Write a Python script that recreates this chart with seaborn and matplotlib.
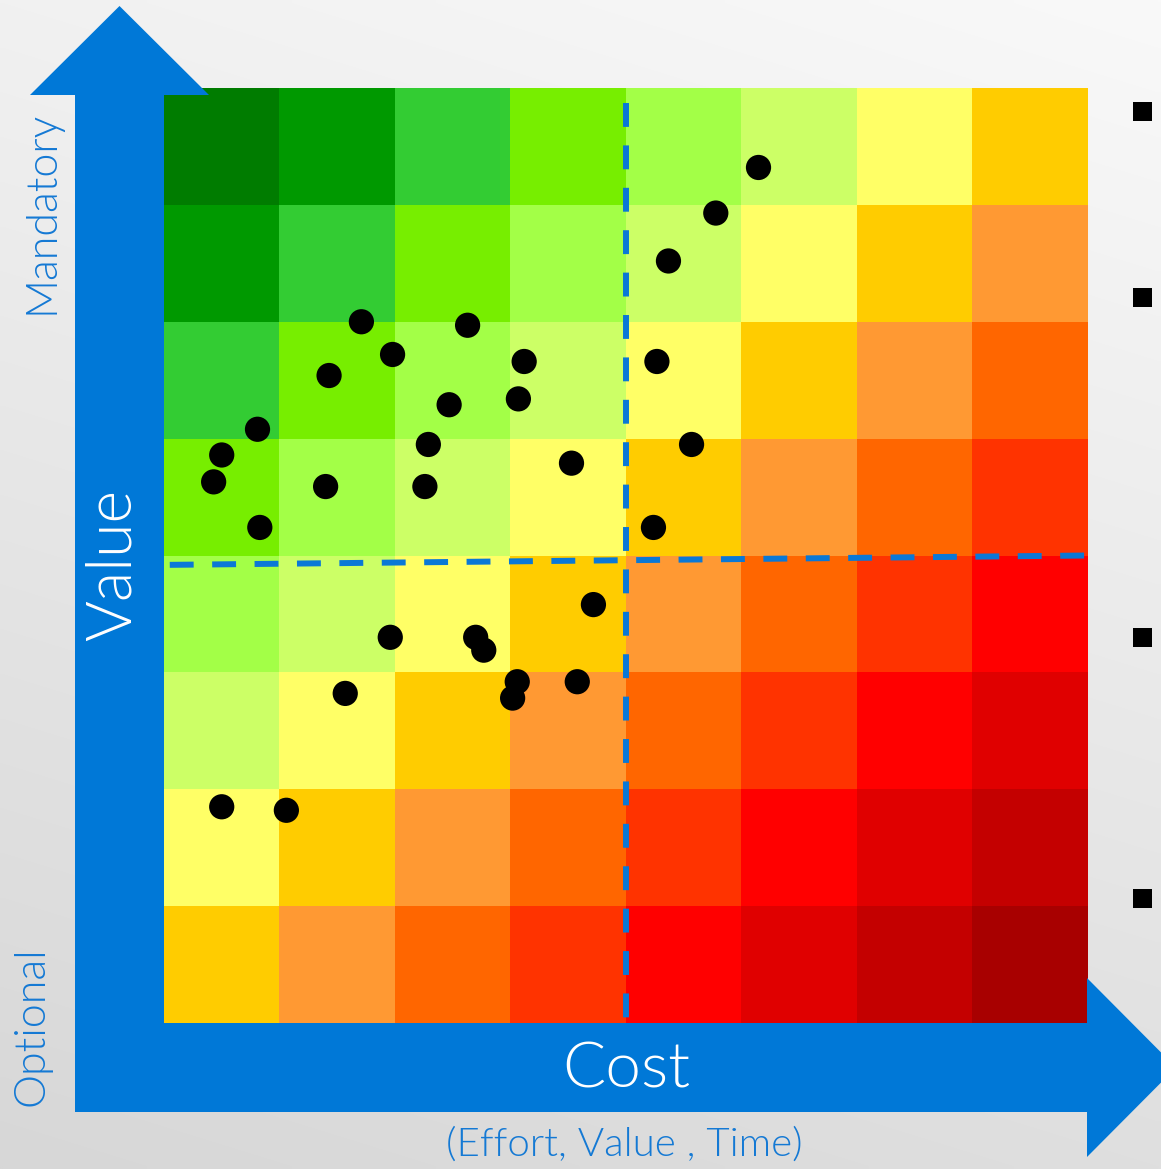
import numpy as np
import matplotlib
matplotlib.use("Agg")
import matplotlib.pyplot as plt
from matplotlib.colors import ListedColormap
from matplotlib.patches import Polygon, Rectangle
import seaborn as sns

sns.set_style("white")
plt.rcParams["font.family"] = ["Lato", "DejaVu Sans"]

# Heat levels from cool (cheap / mandatory) to hot (expensive / optional)
level_colors = [
    "#007C00", "#009900", "#33CC33", "#77EE00", "#A3FF47",
    "#CCFF66", "#FFFF66", "#FFCC00", "#FF9933", "#FF6600",
    "#FF3300", "#FF0000", "#E00000", "#C40000", "#A80000",
]
n_cells = 8

# Backlog items: cost (x) and value (y) on the 0-8 grid
item_cost = [1.71, 2.63, 1.98, 1.43, 3.12, 2.47, 3.07, 0.81, 0.50, 0.43,
             1.40, 2.29, 2.26, 0.83, 3.53, 5.15, 4.78, 4.37, 4.27, 4.57,
             4.24, 3.72, 1.96, 2.70, 2.77, 3.06, 3.02, 3.58, 1.57, 0.50,
             1.06]
item_value = [6.00, 5.97, 5.72, 5.54, 5.66, 5.29, 5.34, 5.08, 4.86, 4.63,
              4.59, 4.95, 4.59, 4.24, 4.79, 7.32, 6.93, 6.52, 5.66, 4.95,
              4.24, 3.58, 3.30, 3.30, 3.19, 2.92, 2.78, 2.92, 2.82, 1.85,
              1.82]

# Quadrant dividers
cost_split = 4.0
value_split_left, value_split_right = 3.92, 4.00

W, H = 1161, 1169
fig = plt.figure(figsize=(W / 100, H / 100), dpi=100)

# Soft grey background gradient
bg = fig.add_axes([0, 0, 1, 1], zorder=0)
xx, yy = np.meshgrid(np.linspace(0, 1, 200), np.linspace(0, 1, 200))
shade = 241 + 8 * xx - 26 * yy
bg.imshow(np.dstack([shade, shade, shade]) / 255.0, extent=[0, W, H, 0],
          aspect="auto", interpolation="bilinear")
bg.set_xlim(0, W)
bg.set_ylim(H, 0)
bg.axis("off")

# Heat grid: rows ordered bottom (value 0) to top (value 8)
levels = np.array([[c + (n_cells - 1 - r) for c in range(n_cells)]
                   for r in range(n_cells)])
left, right, top, bottom = 164, 1087.5, 88, 1023
ax = fig.add_axes([left / W, 1 - bottom / H, (right - left) / W, (bottom - top) / H],
                  zorder=1)
sns.heatmap(levels, cmap=ListedColormap(level_colors), vmin=-0.5,
            vmax=len(level_colors) - 0.5, cbar=False, xticklabels=False,
            yticklabels=False, ax=ax)
ax.set_xlim(0, n_cells)
ax.set_ylim(0, n_cells)

dash_blue = "#0A78D6"
ax.plot([cost_split, cost_split], [7.87, 0.0], color=dash_blue, lw=4.3,
        dashes=(4.0, 3.1), solid_capstyle="butt", dash_capstyle="butt")
ax.plot([0.05, n_cells], [value_split_left, value_split_right], color=dash_blue,
        lw=4.3, dashes=(4.0, 3.1), dash_capstyle="butt")

sns.scatterplot(x=item_cost, y=item_value, color="black", s=330,
                edgecolor="none", ax=ax, zorder=5, legend=False)
ax.axis("off")

# Axis arrows, labels and bullets drawn in figure pixels
ov = fig.add_axes([0, 0, 1, 1], zorder=2)
ov.set_xlim(0, W)
ov.set_ylim(H, 0)
ov.axis("off")
ov.patch.set_alpha(0)

arrow_blue = "#0078D7"
arrow = [(75, 1112), (75, 95), (30, 95), (119.5, 6), (209, 95), (164, 95),
         (164, 1023), (1087, 1023), (1087, 978), (1176, 1067.5),
         (1087, 1157), (1087, 1112)]
ov.add_patch(Polygon(arrow, closed=True, facecolor=arrow_blue,
                     edgecolor="none"))

for yc in [111, 297, 637, 898]:
    ov.add_patch(Rectangle((1133, yc - 9.5), 19, 19, facecolor="black",
                           edgecolor="none"))

text_blue = "#1479D4"
lw_font = 300
ov.text(113, 565, "Value", rotation=90, color="white", fontsize=45,
        fontweight=lw_font, ha="center", va="center")
ov.text(626, 1070, "Cost", color="white", fontsize=46, fontweight=lw_font,
        ha="center", va="center")
ov.text(42, 212, "Mandatory", rotation=90, color=text_blue, fontsize=31,
        fontweight=lw_font, ha="center", va="center")
ov.text(32, 1026, "Optional", rotation=90, color=text_blue, fontsize=31,
        fontweight=lw_font, ha="center", va="center")
ov.text(624, 1145, "(Effort, Value , Time)", color=text_blue, fontsize=29,
        fontweight=lw_font, ha="center", va="center")

fig.savefig("out.png", dpi=100)
